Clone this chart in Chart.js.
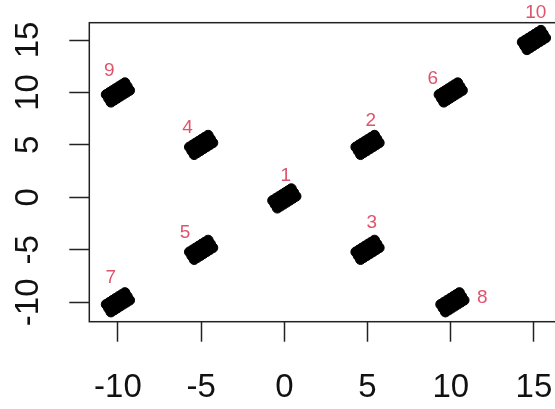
<!DOCTYPE html>
<html>
<head>
<meta charset="utf-8">
<script src="https://cdn.jsdelivr.net/npm/chart.js@4"></script>
<style>
  html, body { margin: 0; padding: 0; background: #fff; overflow: hidden; }
</style>
</head>
<body>
<canvas id="plot" width="580" height="409"></canvas>
<script>
// cluster points
const cluster1 = [[-0.56,-0.66],[-0.70,-0.30],[-0.42,-1.02],[-0.37,-0.47],[-0.51,-0.11],[-0.23,-0.83],[-0.19,-0.29],[-0.33,0.07],[-0.05,-0.65],[0.00,-0.10],[-0.14,0.26],[0.14,-0.46],[0.19,0.09],[0.05,0.45],[0.33,-0.27],[0.37,0.27],[0.23,0.63],[0.51,-0.09],[0.56,0.46],[0.42,0.82],[0.70,0.10]];
const cluster2 = [[4.44,4.44],[4.30,4.80],[4.58,4.08],[4.63,4.63],[4.49,4.99],[4.77,4.27],[4.81,4.81],[4.67,5.17],[4.95,4.45],[5.00,5.00],[4.86,5.36],[5.14,4.64],[5.19,5.19],[5.05,5.55],[5.33,4.83],[5.37,5.37],[5.23,5.73],[5.51,5.01],[5.56,5.56],[5.42,5.92],[5.70,5.20]];
const cluster3 = [[4.44,-5.56],[4.30,-5.20],[4.58,-5.92],[4.63,-5.37],[4.49,-5.01],[4.77,-5.73],[4.81,-5.19],[4.67,-4.83],[4.95,-5.55],[5.00,-5.00],[4.86,-4.64],[5.14,-5.36],[5.19,-4.81],[5.05,-4.45],[5.33,-5.17],[5.37,-4.63],[5.23,-4.27],[5.51,-4.99],[5.56,-4.44],[5.42,-4.08],[5.70,-4.80]];
const cluster4 = [[-5.56,4.44],[-5.70,4.80],[-5.42,4.08],[-5.37,4.63],[-5.51,4.99],[-5.23,4.27],[-5.19,4.81],[-5.33,5.17],[-5.05,4.45],[-5.00,5.00],[-5.14,5.36],[-4.86,4.64],[-4.81,5.19],[-4.95,5.55],[-4.67,4.83],[-4.63,5.37],[-4.77,5.73],[-4.49,5.01],[-4.44,5.56],[-4.58,5.92],[-4.30,5.20]];
const cluster5 = [[-5.56,-5.56],[-5.70,-5.20],[-5.42,-5.92],[-5.37,-5.37],[-5.51,-5.01],[-5.23,-5.73],[-5.19,-5.19],[-5.33,-4.83],[-5.05,-5.55],[-5.00,-5.00],[-5.14,-4.64],[-4.86,-5.36],[-4.81,-4.81],[-4.95,-4.45],[-4.67,-5.17],[-4.63,-4.63],[-4.77,-4.27],[-4.49,-4.99],[-4.44,-4.44],[-4.58,-4.08],[-4.30,-4.80]];
const cluster6 = [[9.44,9.44],[9.30,9.80],[9.58,9.08],[9.63,9.63],[9.49,9.99],[9.77,9.27],[9.81,9.81],[9.67,10.17],[9.95,9.45],[10.00,10.00],[9.86,10.36],[10.14,9.64],[10.19,10.19],[10.05,10.55],[10.33,9.83],[10.37,10.37],[10.23,10.73],[10.51,10.01],[10.56,10.56],[10.42,10.92],[10.70,10.20]];
const cluster7 = [[-10.56,-10.56],[-10.70,-10.20],[-10.42,-10.92],[-10.37,-10.37],[-10.51,-10.01],[-10.23,-10.73],[-10.19,-10.19],[-10.33,-9.83],[-10.05,-10.55],[-10.00,-10.00],[-10.14,-9.64],[-9.86,-10.36],[-9.81,-9.81],[-9.95,-9.45],[-9.67,-10.17],[-9.63,-9.63],[-9.77,-9.27],[-9.49,-9.99],[-9.44,-9.44],[-9.58,-9.08],[-9.30,-9.80]];
const cluster8 = [[9.54,-10.56],[9.40,-10.20],[9.68,-10.92],[9.73,-10.37],[9.59,-10.01],[9.87,-10.73],[9.91,-10.19],[9.77,-9.83],[10.05,-10.55],[10.10,-10.00],[9.96,-9.64],[10.24,-10.36],[10.29,-9.81],[10.15,-9.45],[10.43,-10.17],[10.47,-9.63],[10.33,-9.27],[10.61,-9.99],[10.66,-9.44],[10.52,-9.08],[10.80,-9.80]];
const cluster9 = [[-10.56,9.44],[-10.70,9.80],[-10.42,9.08],[-10.37,9.63],[-10.51,9.99],[-10.23,9.27],[-10.19,9.81],[-10.33,10.17],[-10.05,9.45],[-10.00,10.00],[-10.14,10.36],[-9.86,9.64],[-9.81,10.19],[-9.95,10.55],[-9.67,9.83],[-9.63,10.37],[-9.77,10.73],[-9.49,10.01],[-9.44,10.56],[-9.58,10.92],[-9.30,10.20]];
const cluster10 = [[14.44,14.44],[14.30,14.80],[14.58,14.08],[14.63,14.63],[14.49,14.99],[14.77,14.27],[14.81,14.81],[14.67,15.17],[14.95,14.45],[15.00,15.00],[14.86,15.36],[15.14,14.64],[15.19,15.19],[15.05,15.55],[15.33,14.83],[15.37,15.37],[15.23,15.73],[15.51,15.01],[15.56,15.56],[15.42,15.92],[15.70,15.20]];

// red cluster labels and where they sit
const labelText = ['1','2','3','4','5','6','7','8','9','10'];
const labelX = [0.09, 5.19, 5.25, -5.82, -5.97, 8.92, -10.43, 11.9, -10.52, 15.11];
const labelY = [2.23, 7.45, -2.25, 6.82, -3.20, 11.43, -7.56, -9.43, 12.26, 17.7];

const xTicks = [-10, -5, 0, 5, 10, 15];
const yTicks = [-10, -5, 0, 5, 10, 15];

const clusters = [cluster1, cluster2, cluster3, cluster4, cluster5, cluster6, cluster7, cluster8, cluster9, cluster10];
const points = [];
clusters.forEach(function(c) {
    c.forEach(function(p) { points.push({x: p[0], y: p[1]}); });
});

// box round the plot region, like R's box()
const boxPlugin = {
    id: 'box',
    beforeDatasetsDraw: function(chart) {
        const a = chart.chartArea;
        const ctx = chart.ctx;
        ctx.save();
        ctx.strokeStyle = '#222';
        ctx.lineWidth = 1.5;
        ctx.strokeRect(a.left, a.top, a.right - a.left, a.bottom - a.top);
        ctx.restore();
    }
};

const labelPlugin = {
    id: 'clusterLabels',
    afterDraw: function(chart) {
        const ctx = chart.ctx;
        const sx = chart.scales.x, sy = chart.scales.y;
        ctx.save();
        ctx.fillStyle = '#DF536B';
        ctx.font = '19px "Liberation Sans", Arial, sans-serif';
        ctx.textAlign = 'center';
        ctx.textBaseline = 'alphabetic';
        for (let i = 0; i < labelText.length; i++) {
            ctx.fillText(labelText[i], sx.getPixelForValue(labelX[i]), sy.getPixelForValue(labelY[i]) + 6.8);
        }
        ctx.restore();
    }
};

const tickFont = {family: '"Liberation Sans", Arial, sans-serif', size: 33};

new Chart(document.getElementById('plot').getContext('2d'), {
    type: 'scatter',
    data: {
        datasets: [{
            data: points,
            pointRadius: 5,
            pointBorderWidth: 1,
            pointBackgroundColor: '#000',
            pointBorderColor: '#000'
        }]
    },
    options: {
        responsive: false,
        animation: false,
        events: [],
        layout: {padding: {left: 0, top: 22.7, right: 18.6, bottom: 0}},
        plugins: {legend: {display: false}, tooltip: {enabled: false}},
        scales: {
            x: {
                type: 'linear',
                position: 'bottom',
                min: -11.72,
                max: 16.65,
                afterBuildTicks: function(s) { s.ticks = xTicks.map(function(v) { return {value: v}; }); },
                afterFit: function(s) { s.height = 87.3; s.paddingLeft = 0; s.paddingRight = 0; },
                border: {display: false},
                grid: {drawOnChartArea: false, drawTicks: true, tickLength: 20, tickWidth: 1.5, tickColor: '#222'},
                ticks: {font: tickFont, color: '#111', padding: 26, maxRotation: 0, autoSkip: false}
            },
            y: {
                type: 'linear',
                position: 'left',
                min: -11.85,
                max: 16.65,
                afterBuildTicks: function(s) { s.ticks = yTicks.map(function(v) { return {value: v}; }); },
                afterFit: function(s) { s.width = 89.3; s.paddingTop = 0; s.paddingBottom = 0; },
                border: {display: false},
                grid: {drawOnChartArea: false, drawTicks: true, tickLength: 20, tickWidth: 1.5, tickColor: '#222'},
                ticks: {font: tickFont, color: '#111', padding: 17, minRotation: 90, maxRotation: 90, crossAlign: 'center', autoSkip: false}
            }
        }
    },
    plugins: [boxPlugin, labelPlugin]
});
</script>
</body>
</html>
